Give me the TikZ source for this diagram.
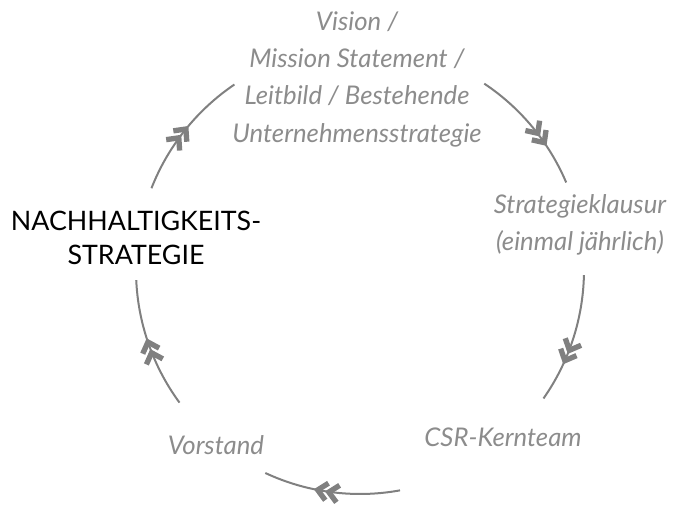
\documentclass[tikz,border=0pt]{standalone}
\usepackage{fontspec}
\setmainfont{Lato}
\usetikzlibrary{decorations.markings}

\definecolor{ringgray}{HTML}{808080}
\definecolor{labelgray}{HTML}{8C8C8C}

\begin{document}
\begin{tikzpicture}[x=0.75pt,y=0.75pt,
    chevline/.style={draw=ringgray, line width=4pt, line join=miter, line cap=butt},
    ring/.style={draw=ringgray, line width=1.5pt},
    arrowat/.style={decoration={markings, mark=at position #1 with {\draw[chevline] (-7pt,6.5pt) -- (0pt,0pt) -- (-7pt,-6.5pt) (-15.5pt,6.5pt) -- (-8.5pt,0pt) -- (-15.5pt,-6.5pt);}}, postaction={decorate}},
    step label/.style={text=labelgray, align=center, font=\fontsize{19.3}{28}\selectfont\itshape},
    goal label/.style={text=black, align=center, font=\fontsize{20.1}{26}\selectfont}]
    \useasboundingbox (0,0) rectangle (676,505);
    \coordinate (c) at (360,235);
    \node[step label] (vision) at (357,426) {Vision /\\Mission Statement /\\Leitbild / Bestehende\\Unternehmensstrategie};
    \node[step label] (klausur) at (580,280) {Strategieklausur\\(einmal jährlich)};
    \node[step label] (csr) at (503,68) {CSR-Kernteam};
    \node[step label] (vorstand) at (216,60) {Vorstand};
    \node[goal label] (ziel) at (136,267) {NACHHALTIGKEITS-\\STRATEGIE};
    \coordinate (a1) at ([shift={(158.6:224)}]c);
    \coordinate (a2) at ([shift={(56.3:224)}]c);
    \coordinate (a3) at ([shift={(-1.3:224)}]c);
    \coordinate (a4) at ([shift={(-79.7:224)}]c);
    \coordinate (a5) at ([shift={(216.3:224)}]c);
    \draw[ring, arrowat=0.51] (a1) arc[start angle=158.6, end angle=124.1, radius=224];
    \draw[ring, arrowat=0.65] (a2) arc[start angle=56.3, end angle=23, radius=224];
    \draw[ring, arrowat=0.67] (a3) arc[start angle=-1.3, end angle=-35, radius=224];
    \draw[ring, arrowat=0.6] (a4) arc[start angle=-79.7, end angle=-115, radius=224];
    \draw[ring, arrowat=0.52] (a5) arc[start angle=216.3, end angle=182.6, radius=224];
\end{tikzpicture}
\end{document}
